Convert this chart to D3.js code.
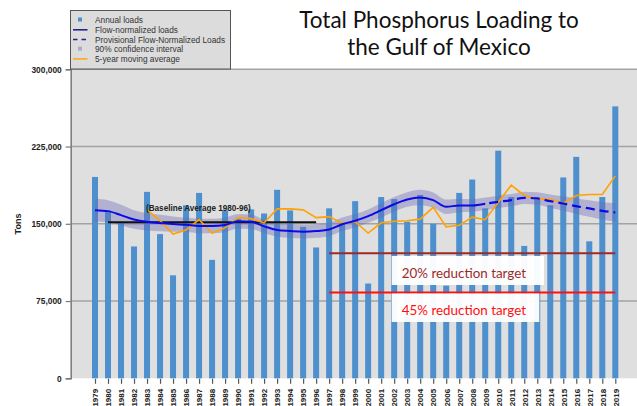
<!DOCTYPE html>
<html><head><meta charset="utf-8">
<script src="https://cdn.jsdelivr.net/npm/d3@7"></script>
<style>html,body{margin:0;padding:0;background:#fff;}svg{display:block;}</style>
</head><body><svg id="c" width="637" height="406"></svg>
<script>
const years = [1979,1980,1981,1982,1983,1984,1985,1986,1987,1988,1989,1990,1991,1992,1993,1994,1995,1996,1997,1998,1999,2000,2001,2002,2003,2004,2005,2006,2007,2008,2009,2010,2011,2012,2013,2014,2015,2016,2017,2018,2019];
const annualLoads = [195500,162000,151000,128000,181000,140000,100000,168000,180000,115000,163000,155000,164000,160000,183000,163000,147000,127000,165000,150000,172000,92000,176000,174000,152000,178000,150000,90000,180000,193000,165000,221000,176000,128500,175000,168000,195000,215000,133000,176000,264000];
const fnYears = [1979,1980,1981,1982,1983,1984,1985,1986,1987,1988,1989,1990,1991,1992,1993,1994,1995,1996,1997,1998,1999,2000,2001,2002,2003,2004,2005,2006,2007,2008,2009];
const flowNormalized = [163200,162300,158400,154200,151900,150800,149700,149000,147900,147900,148900,152500,152000,147500,144000,143000,142300,142900,144500,149500,153000,157500,163200,169000,173600,175500,173000,166500,167800,167800,169500];
const provYears = [2009,2010,2011,2012,2013,2014,2015,2016,2017,2018,2019];
const provisionalFN = [169500,171300,173000,175200,174600,172000,169700,167100,164900,162600,161000];
const ciHigh = [174200,172800,168400,163200,160400,158800,157200,156000,154900,154900,155900,159500,159000,154000,150500,149500,148800,149400,151000,156000,159500,164000,170200,176000,180600,183000,180500,173500,174300,173800,175500,177300,179000,181200,180600,178500,176700,174600,172900,171100,170000];
const ciLow = [152200,151800,148400,145200,143400,142800,142200,142000,140900,140900,141900,145500,145000,141000,137500,136500,135800,136400,138000,143000,146500,151000,156200,162000,166600,168000,165500,159500,161300,161800,163500,165300,167000,169200,168600,165500,162700,159600,156900,154100,152000];
const maYears = [1983,1984,1985,1986,1987,1988,1989,1990,1991,1992,1993,1994,1995,1996,1997,1998,1999,2000,2001,2002,2003,2004,2005,2006,2007,2008,2009,2010,2011,2012,2013,2014,2015,2016,2017,2018,2019];
const movingAvg = [163500,153000,140000,144000,154000,141000,146000,156000,155000,151000,164500,164500,163500,156000,157000,150500,152000,141000,151000,152500,153000,154500,166000,147000,148500,156500,154000,171000,187500,177500,174000,174000,170000,177500,178500,178500,196500];
const baseline = {from:1980, to:1996, value:151600};
const targets = [{label:"20% reduction target", value:121300, from:1997, to:2019},{label:"45% reduction target", value:83400, from:1997, to:2019}];
const yTicks = [0,75000,150000,225000,300000];
const yTickLabels = ["0","75,000","150,000","225,000","300,000"];
const titleLines = ["Total Phosphorus Loading to","the Gulf of Mexico"];
const legendItems = ["Annual loads","Flow-normalized loads","Provisional Flow-Normalized Loads","90% confidence interval","5-year moving average"];

const svg = d3.select("#c");
const PL=70.7, PR=637, PT=69.3, PB=378.3;
const x = d3.scalePoint().domain(years).range([95,615.3]);
const y = d3.scaleLinear().domain([0,300000]).range([PB,PT]);

svg.append("rect").attr("x",PL).attr("y",PT).attr("width",PR-PL).attr("height",PB-PT).attr("fill","#dfdfdf");
svg.append("g").selectAll("line").data(yTicks.slice(1)).join("line")
  .attr("x1",PL).attr("x2",PR).attr("y1",d=>y(d)).attr("y2",d=>y(d))
  .attr("stroke","#a3a3a3").attr("stroke-width",1.5);

svg.append("g").selectAll("rect").data(years).join("rect")
  .attr("x",d=>x(d)-3).attr("width",6)
  .attr("y",(d,i)=>y(annualLoads[i])).attr("height",(d,i)=>PB-y(annualLoads[i]))
  .attr("fill","#4d90cd");

const area = d3.area().x(d=>x(d)).y0((d,i)=>y(ciLow[i])).y1((d,i)=>y(ciHigh[i])).curve(d3.curveMonotoneX);
svg.append("path").datum(years).attr("d",area).attr("fill","#6a66b8").attr("opacity",0.38);

svg.append("line").attr("x1",x(baseline.from)).attr("x2",x(baseline.to))
  .attr("y1",y(baseline.value)).attr("y2",y(baseline.value)).attr("stroke","#111").attr("stroke-width",2);

const maLine = d3.line().x((d,i)=>x(maYears[i])).y(d=>y(d));
svg.append("path").datum(movingAvg).attr("d",maLine).attr("fill","none").attr("stroke","#ffa200").attr("stroke-width",1.6);

const fnLine = d3.line().x((d,i)=>x(fnYears[i])).y(d=>y(d)).curve(d3.curveMonotoneX);
svg.append("path").datum(flowNormalized).attr("d",fnLine).attr("fill","none").attr("stroke","#0a0ae6").attr("stroke-width",2);
const pvLine = d3.line().x((d,i)=>x(provYears[i])).y(d=>y(d)).curve(d3.curveMonotoneX);
svg.append("path").datum(provisionalFN).attr("d",pvLine).attr("fill","none").attr("stroke","#0a0ae6").attr("stroke-width",2.2).attr("stroke-dasharray","9,5").attr("stroke-dashoffset",-4);

const bl = svg.append("text").attr("x",146).attr("y",210.5).attr("font-family","Liberation Sans, Arial").attr("font-weight","bold").attr("font-size",8.5).attr("fill","#222").text("(Baseline Average 1980-96)");

function fit(t, w){ const L=t.node().getComputedTextLength(); const fs=+t.attr("font-size"); t.attr("font-size", fs*w/L); return fs*w/L; }
fit(bl,105);

const tColors = ["#9b2a2a","#ff1010"];
const boxes = [{x:391.7,y:256,w:152.3,h:29,tx:401.7,ty:277.5},{x:391.7,y:293.5,w:147.6,h:28.5,tx:401.7,ty:314.5}];
targets.forEach((t,i)=>{
  svg.append("line").attr("x1",x(t.from)).attr("x2",x(t.to)).attr("y1",y(t.value)).attr("y2",y(t.value)).attr("stroke",tColors[i]).attr("stroke-width",2);
  const b=boxes[i];
  svg.append("rect").attr("x",b.x).attr("y",b.y).attr("width",b.w).attr("height",b.h).attr("fill","#fff").attr("opacity",0.96);
  const tt = svg.append("text").attr("x",b.tx).attr("y",b.ty).attr("font-family","Lato, Carlito, sans-serif").attr("font-size",15).attr("fill",tColors[i]).text(t.label);
  fit(tt,124.5);
});

const yAxis = d3.axisLeft(y).tickValues(yTicks).tickFormat((d,i)=>yTickLabels[i]).tickSize(5).tickPadding(4);
const ya = svg.append("g").attr("transform",`translate(${PL},0)`).call(yAxis);
ya.select(".domain").attr("stroke","#7a7a7a").attr("stroke-width",1.5);
ya.selectAll(".tick line").attr("stroke","#7a7a7a").attr("stroke-width",1.2);
ya.selectAll("text").attr("font-family","Liberation Sans, Arial").attr("font-weight","bold").attr("font-size",8.4).attr("fill","#222");

svg.append("text").attr("transform","translate(21,224) rotate(-90)").attr("text-anchor","middle")
  .attr("font-family","Liberation Sans, Arial").attr("font-weight","bold").attr("font-size",9).attr("fill","#222").text("Tons");

const xAxis = d3.axisBottom(x).tickSize(5).tickPadding(3);
const xa = svg.append("g").attr("transform",`translate(0,${PB+0.5})`).call(xAxis);
xa.select(".domain").remove();
xa.selectAll(".tick line").attr("stroke","#555").attr("stroke-width",1.2);
xa.selectAll("text").attr("font-family","Liberation Sans, Arial").attr("font-weight","bold").attr("font-size",8).attr("fill","#222")
  .attr("text-anchor","end").attr("transform","translate(2.8,10) rotate(-90)").attr("dy","0").attr("y",0).attr("x",0);

const lg = svg.append("g");
lg.append("rect").attr("x",70.5).attr("y",10.5).attr("width",160).attr("height",58.5).attr("fill","#dcdcdc").attr("stroke","#555").attr("stroke-width",1);
const rowY = [21,30.8,40.5,50.2,59.9];
legendItems.forEach((t,i)=>{
  const yy=rowY[i];
  if(i===0) lg.append("rect").attr("x",78).attr("y",yy-3.5).attr("width",4).attr("height",4).attr("fill","#4d90cd");
  if(i===1) lg.append("line").attr("x1",73).attr("x2",87.5).attr("y1",yy-1).attr("y2",yy-1).attr("stroke","#232390").attr("stroke-width",1.6);
  if(i===2) lg.append("line").attr("x1",73).attr("x2",87.5).attr("y1",yy-1).attr("y2",yy-1).attr("stroke","#232390").attr("stroke-width",1.6).attr("stroke-dasharray","4.5,4");
  if(i===3) lg.append("rect").attr("x",78).attr("y",yy-3.5).attr("width",4).attr("height",4).attr("fill","#aaa8cc");
  if(i===4) lg.append("line").attr("x1",73).attr("x2",87.5).attr("y1",yy-1).attr("y2",yy-1).attr("stroke","#ffa200").attr("stroke-width",1.4);
  lg.append("text").attr("x",95).attr("y",yy+2).attr("font-family","Liberation Sans, Arial").attr("font-size",8.3).attr("fill","#333").text(t);
});

const tY=[27.5,55];
titleLines.forEach((t,i)=>{
  svg.append("text").attr("x",439).attr("y",tY[i]).attr("text-anchor","middle").attr("font-family","Lato, Carlito, sans-serif").attr("font-size",22.5).attr("fill","#111").text(t);
});
</script></body></html>
